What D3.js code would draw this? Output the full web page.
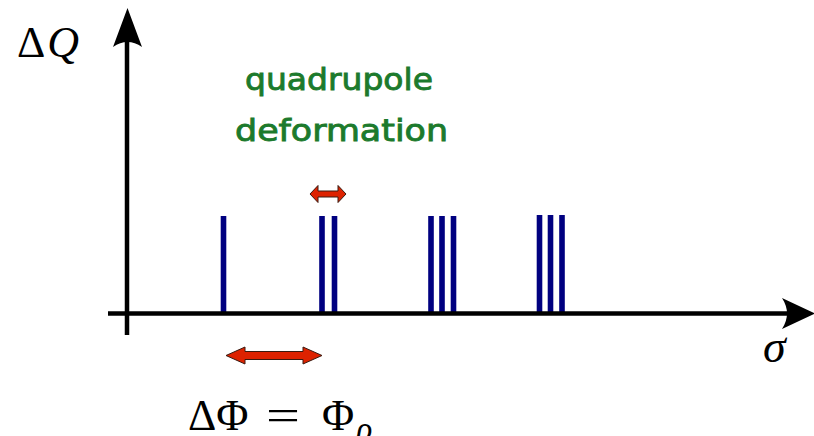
<!DOCTYPE html>
<html>
<head>
<meta charset="utf-8">
<script src="https://cdn.jsdelivr.net/npm/d3@7"></script>
<style>
  body { margin: 0; background: #fff; }
  svg { display: block; }
</style>
</head>
<body>
<div id="chart"></div>
<script>
// lines in each group (sigma units, dQ units)
const sigma = [9.65, 19.5, 20.75, 30.4, 31.5, 32.65, 41.25, 42.35, 43.5];
const deltaQ = [1.0, 1.0, 1.0, 1.0, 1.0, 1.0, 1.01, 1.01, 1.01];

// annotation spans, sigma units
const phiSpan = [9.9, 19.5];
const quadSpan = [18.3, 21.9];

const width = 814, height = 436;
const svg = d3.select("#chart").append("svg")
  .attr("width", width)
  .attr("height", height);

const x = d3.scaleLinear().domain([0, 68.5]).range([127, 812]);
const y = d3.scaleLinear().domain([0, 1]).range([315, 216]);

// bars
svg.selectAll("rect.line")
  .data(sigma)
  .enter()
  .append("rect")
  .attr("class", "line")
  .attr("x", d => x(d) - 2.8)
  .attr("y", (d, i) => y(deltaQ[i]))
  .attr("width", 5.6)
  .attr("height", (d, i) => y(0) - y(deltaQ[i]) - 2)
  .attr("fill", "#000080");

// axes
svg.append("line")
  .attr("x1", 108).attr("x2", 792)
  .attr("y1", y(0) - 1.5).attr("y2", y(0) - 1.5)
  .attr("stroke", "#000").attr("stroke-width", 4.5);
svg.append("path")
  .attr("d", "M815,313.5 L782,298 Q792,313.5 782,329 Z")
  .attr("fill", "#000");

svg.append("line")
  .attr("x1", x(0)).attr("x2", x(0))
  .attr("y1", 335).attr("y2", 42)
  .attr("stroke", "#000").attr("stroke-width", 4.5);
svg.append("path")
  .attr("d", "M127.5,8 L113,47 Q127.5,37 142,47 Z")
  .attr("fill", "#000");

// double arrow helper
function dblArrow(x0, x1, cy, shaftH, headH, headL) {
  const s = shaftH / 2, h = headH / 2;
  const d = [
    [x0, cy], [x0 + headL, cy - h], [x0 + headL, cy - s],
    [x1 - headL, cy - s], [x1 - headL, cy - h], [x1, cy],
    [x1 - headL, cy + h], [x1 - headL, cy + s], [x0 + headL, cy + s],
    [x0 + headL, cy + h]
  ];
  svg.append("path")
    .attr("d", "M" + d.map(p => p.join(",")).join("L") + "Z")
    .attr("fill", "#dd2200")
    .attr("stroke", "#3a1a10")
    .attr("stroke-width", 1);
}
dblArrow(x(phiSpan[0]), x(phiSpan[1]), 355.5, 8, 17, 19);
dblArrow(x(quadSpan[0]), x(quadSpan[1]), 194, 6, 17, 8);

// labels
const serif = "Liberation Serif, DejaVu Serif, serif";
svg.append("text")
  .attr("x", 17).attr("y", 57)
  .attr("font-family", serif)
  .attr("font-size", 44)
  .html('Δ<tspan font-style="italic" dx="2">Q</tspan>');

svg.append("text")
  .attr("x", 763).attr("y", 362)
  .attr("font-family", serif)
  .attr("font-style", "italic")
  .attr("font-size", 46)
  .text("σ");

const eqParts = [
  { t: "ΔΦ", x: 188 },
  { t: "=", x: 266, len: 34 },
  { t: "Φ", x: 322 }
];
eqParts.forEach(p => {
  const t = svg.append("text")
    .attr("x", p.x).attr("y", 430)
    .attr("font-family", serif)
    .attr("font-size", 44)
    .text(p.t);
  if (p.len) t.attr("textLength", p.len).attr("lengthAdjust", "spacingAndGlyphs");
});
svg.append("text")
  .attr("x", 356).attr("y", 440)
  .attr("font-family", serif)
  .attr("font-style", "italic")
  .attr("font-size", 34)
  .text("ρ");

const green = "#1c7a2c";
svg.append("text")
  .attr("x", 245).attr("y", 90)
  .attr("font-family", "Comic Sans MS, DejaVu Sans, sans-serif")
  .attr("font-size", 31)
  .attr("fill", green)
  .attr("stroke", green).attr("stroke-width", 0.9)
  .attr("textLength", 188)
  .attr("lengthAdjust", "spacingAndGlyphs")
  .text("quadrupole");
svg.append("text")
  .attr("x", 235).attr("y", 141)
  .attr("font-family", "Comic Sans MS, DejaVu Sans, sans-serif")
  .attr("font-size", 31)
  .attr("fill", green)
  .attr("stroke", green).attr("stroke-width", 0.9)
  .attr("textLength", 213)
  .attr("lengthAdjust", "spacingAndGlyphs")
  .text("deformation");
</script>
</body>
</html>
